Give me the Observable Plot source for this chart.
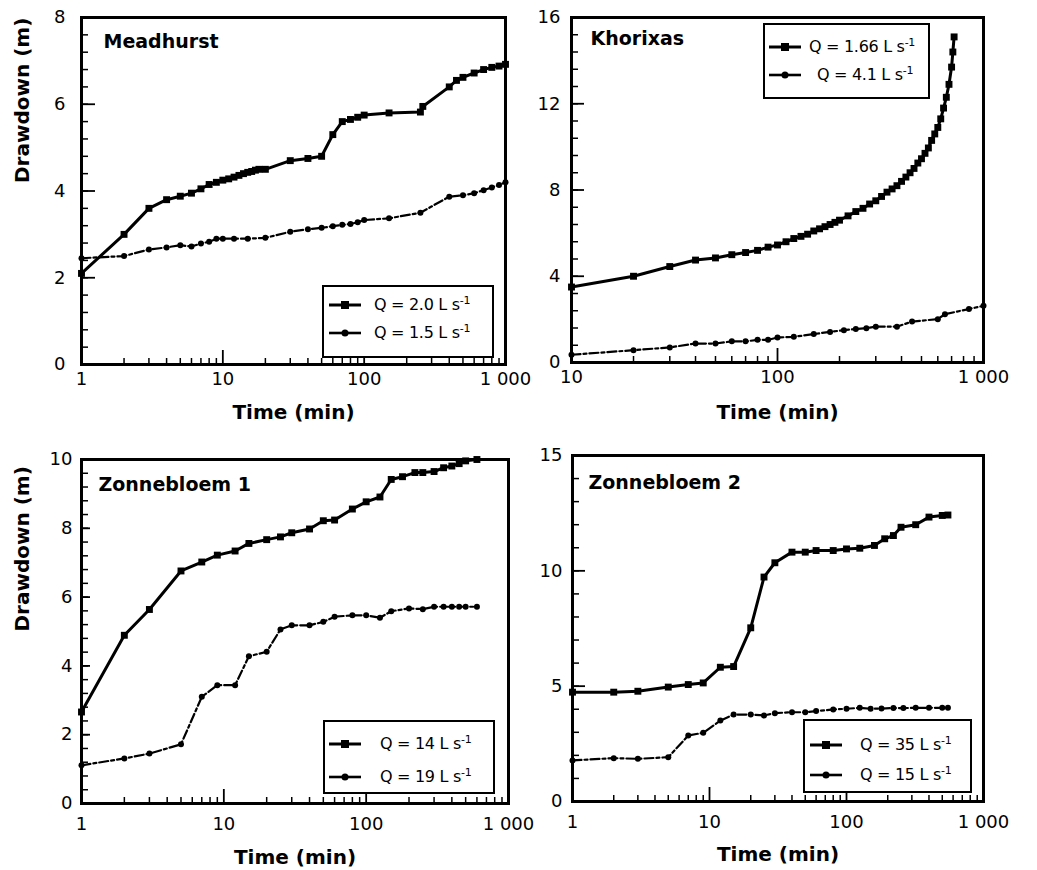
<!DOCTYPE html>
<html><head><meta charset="utf-8">
<script src="https://cdn.jsdelivr.net/npm/d3@7"></script>
<script src="https://cdn.jsdelivr.net/npm/@observablehq/plot@0.6"></script>
<style>
body{margin:0;background:#fff;}
#root{position:relative;width:1037px;height:870px;overflow:hidden;}
.panel{position:absolute;}
.legend{position:absolute;box-sizing:border-box;border:2px solid #000;background:#fff;font-family:"DejaVu Sans";font-size:16px;letter-spacing:-0.3px;color:#000;}
.legend .row{position:absolute;left:0;white-space:nowrap;}
.legend sup{font-size:11px;vertical-align:6px;line-height:0;}
.legend svg{position:absolute;overflow:visible;}
</style></head><body><div id="root"></div>
<script>
// ---------- Data ----------
// Meadhurst
const meadT_A = [1,2,3,4,5,6,7,8,9,10,11,12,13,14,15,16,17,18,20,30,40,50,60,70,80,90,100,150,250,260,400,450,500,600,700,800,900,1000];
const meadS_A = [2.1,3.0,3.6,3.8,3.88,3.95,4.05,4.15,4.2,4.25,4.28,4.32,4.36,4.4,4.43,4.45,4.48,4.5,4.5,4.7,4.75,4.8,5.3,5.6,5.65,5.7,5.75,5.8,5.82,5.95,6.4,6.55,6.62,6.72,6.8,6.85,6.88,6.92];
const meadT_B = [1,2,3,4,5,6,7,8,9,10,12,15,20,30,40,50,60,70,80,90,100,150,250,400,500,600,700,800,900,1000];
const meadS_B = [2.45,2.5,2.65,2.7,2.75,2.72,2.79,2.83,2.9,2.9,2.9,2.9,2.92,3.06,3.12,3.15,3.19,3.22,3.24,3.28,3.33,3.37,3.5,3.87,3.9,3.95,4.02,4.08,4.14,4.2];
// Khorixas
const khoT_A = [10,20,30,40,50,60,70,80,90,100,110,120,130,140,150,160,170,180,190,200,220,240,260,280,300,320,340,360,380,400,420,440,460,480,500,520,540,560,580,600,620,640,660,680,700,710,720];
const khoS_A = [3.5,4.0,4.45,4.75,4.85,5.0,5.1,5.2,5.35,5.45,5.6,5.75,5.85,5.95,6.1,6.2,6.3,6.4,6.5,6.6,6.8,7.0,7.15,7.35,7.5,7.7,7.9,8.05,8.2,8.4,8.6,8.8,9.0,9.25,9.45,9.7,9.95,10.3,10.6,10.9,11.3,11.8,12.3,12.9,13.7,14.4,15.1];
const khoT_B = [10,20,30,40,50,60,70,80,90,100,120,150,180,210,240,270,300,380,450,600,650,850,1000];
const khoS_B = [0.36,0.57,0.7,0.88,0.88,0.98,0.98,1.05,1.05,1.16,1.19,1.32,1.42,1.5,1.55,1.59,1.66,1.66,1.9,2.01,2.24,2.48,2.63];
// Zonnebloem 1
const zb1T_A = [1,2,3,5,7,9,12,15,20,25,30,40,50,60,80,100,125,150,180,220,250,300,350,400,450,500,600];
const zb1S_A = [2.66,4.89,5.64,6.76,7.02,7.22,7.34,7.56,7.67,7.75,7.87,7.98,8.22,8.24,8.56,8.77,8.91,9.42,9.5,9.62,9.62,9.65,9.76,9.81,9.88,9.96,10.0];
const zb1T_B = [1,2,3,5,7,9,12,15,20,25,30,40,50,60,80,100,125,150,200,250,300,350,400,450,500,600];
const zb1S_B = [1.11,1.31,1.45,1.72,3.1,3.44,3.44,4.28,4.41,5.06,5.18,5.18,5.28,5.43,5.47,5.47,5.4,5.59,5.67,5.65,5.72,5.72,5.72,5.72,5.72,5.72];
// Zonnebloem 2
const zb2T_A = [1,2,3,5,7,9,12,15,20,25,30,40,50,60,80,100,125,160,190,220,250,320,400,500,550];
const zb2S_A = [4.74,4.74,4.78,4.96,5.07,5.14,5.82,5.85,7.53,9.73,10.35,10.81,10.81,10.88,10.88,10.95,10.98,11.1,11.39,11.53,11.89,12.0,12.33,12.4,12.42];
const zb2T_B = [1,2,3,5,7,9,12,15,20,25,30,40,50,60,80,100,125,150,180,220,260,320,400,500,550];
const zb2S_B = [1.78,1.88,1.85,1.92,2.86,2.98,3.51,3.77,3.77,3.73,3.83,3.87,3.87,3.92,3.99,4.02,4.06,4.02,4.03,4.05,4.05,4.06,4.06,4.06,4.06];

// Tick values
const decades = [1,10,100,1000];
const minorsFrom = (lo, hi) => { const r=[]; for (let d=lo; d<hi; d*=10) for (let k=2;k<=9;k++) r.push(d*k); return r; };
const titles = ["Meadhurst","Khorixas","Zonnebloem 1","Zonnebloem 2"];
const legendLabels = [["Q = 2.0 L s","Q = 1.5 L s"],["Q = 1.66 L s","Q = 4.1 L s"],["Q = 14 L s","Q = 19 L s"],["Q = 35 L s","Q = 15 L s"]];
const xLabel = "Time (min)", yLabel = "Drawdown (m)";

const zip = (t, s) => t.map((x,i)=>({t:x, s:s[i]}));
const fmt = d => d === 1000 ? "1 000" : String(d);
const range = (a,b,st) => d3.range(a, b + st/2, st).map(v => +v.toFixed(3));

function panel(c){
  const fw = c.width - c.ml - c.mr, fh = c.height - c.mt - c.mb;
  const A = zip(c.tA, c.sA), B = zip(c.tB, c.sB);
  const [x0, x1] = c.xDomain, [y0, y1] = c.yDomain;
  // inward tick lengths in px, converted through the scales' extents
  const yUp = len => y0 + (y1 - y0) * len / fh;
  const xRight = len => x0 * Math.pow(x1 / x0, len / fw);
  const marks = [
    Plot.ruleX(c.xMinor, {x: d=>d, y1: y0, y2: yUp(6), stroke: "#000", strokeWidth: 1.5}),
    Plot.ruleX(c.xMajor, {x: d=>d, y1: y0, y2: yUp(14), stroke: "#000", strokeWidth: 1.8}),
    Plot.ruleY(c.yMinor, {y: d=>d, x1: x0, x2: xRight(7), stroke: "#000", strokeWidth: 1.5}),
    Plot.ruleY(c.yMajor, {y: d=>d, x1: x0, x2: xRight(c.yMajLen), stroke: "#000", strokeWidth: 1.8}),
    Plot.axisX({ticks: c.xMajor, tickSize: 0, tickPadding: c.xPad, tickFormat: fmt, label: null}),
    Plot.axisY({ticks: c.yMajor, tickSize: 0, tickPadding: c.yPad, label: null}),
    Plot.line(B, {x: "t", y: "s", stroke: "#000", strokeWidth: 2.2, strokeDasharray: "9,3,3,3"}),
    Plot.dot(B, {x: "t", y: "s", symbol: "circle", r: 3, fill: "#000"}),
    Plot.line(A, {x: "t", y: "s", stroke: "#000", strokeWidth: 3}),
    Plot.dot(A, {x: "t", y: "s", symbol: "square", r: 3.9, fill: "#000"}),
    Plot.frame({stroke: "#000", strokeWidth: 3}),
    Plot.text([c.title], {frameAnchor: "top-left", dx: c.tdx, dy: c.tdy, text: d=>d, textAnchor: "start", lineAnchor: "top", fontWeight: "bold", fontSize: 19}),
    Plot.text([xLabel], {frameAnchor: "bottom", dy: c.xlDy, text: d=>d, lineAnchor: "middle", fontWeight: "bold", fontSize: 20})
  ];
  if (c.yl) marks.push(Plot.text([yLabel], {frameAnchor: "left", dx: -c.ylDx, dy: c.ylDy, rotate: -90, text: d=>d, lineAnchor: "middle", fontWeight: "bold", fontSize: 20}));
  const svg = Plot.plot({
    width: c.width, height: c.height,
    marginLeft: c.ml, marginRight: c.mr, marginTop: c.mt, marginBottom: c.mb,
    style: {fontFamily: "DejaVu Sans", fontSize: "18px", color: "#000", background: "transparent", overflow: "visible"},
    x: {type: "log", domain: c.xDomain},
    y: {domain: c.yDomain},
    marks
  });
  svg.classList.add("panel");
  svg.style.left = c.left + "px"; svg.style.top = c.top + "px";
  return svg;
}

function legend(box, labels, rows){
  const div = document.createElement("div");
  div.className = "legend";
  Object.assign(div.style, {left: box[0]+"px", top: box[1]+"px", width: box[2]+"px", height: box[3]+"px"});
  rows.forEach((r, i) => {
    const ns = "http://www.w3.org/2000/svg";
    const s = document.createElementNS(ns, "svg");
    s.setAttribute("width", 34); s.setAttribute("height", 12);
    s.style.left = r.lx + "px"; s.style.top = (r.y - 6) + "px";
    const ln = document.createElementNS(ns, "line");
    ln.setAttribute("x1", 0); ln.setAttribute("x2", 32); ln.setAttribute("y1", 6); ln.setAttribute("y2", 6);
    ln.setAttribute("stroke", "#000"); ln.setAttribute("stroke-width", i === 0 ? 3 : 2.6);
    s.appendChild(ln);
    if (i === 0) { const m = document.createElementNS(ns, "rect"); m.setAttribute("x", 12); m.setAttribute("y", 2); m.setAttribute("width", 8); m.setAttribute("height", 8); s.appendChild(m); }
    else { const m = document.createElementNS(ns, "circle"); m.setAttribute("cx", 16); m.setAttribute("cy", 6); m.setAttribute("r", 3.5); s.appendChild(m); }
    div.appendChild(s);
    const t = document.createElement("div");
    t.className = "row";
    t.style.left = r.tx + "px"; t.style.top = (r.y - 10) + "px"; t.style.lineHeight = "20px";
    t.innerHTML = labels[i] + "<sup>-1</sup>";
    div.appendChild(t);
  });
  return div;
}

const root = document.getElementById("root");
root.appendChild(panel({left:0, top:0, width:530, height:430, ml:81, mr:25, mt:17, mb:66,
  xDomain:[1,1000], yDomain:[0,8], xMajor:decades, xMinor:minorsFrom(1,1000), yMajor:range(0,8,2), yMinor:range(0,8,0.4), yMajLen:14,
  tA:meadT_A, sA:meadS_A, tB:meadT_B, sB:meadS_B, title:titles[0], tdx:22, tdy:17, xPad:8, yPad:16, xlDy:48, yl:true, ylDx:59, ylDy:-8}));
root.appendChild(panel({left:530, top:0, width:507, height:430, ml:41, mr:54, mt:17, mb:68,
  xDomain:[10,1000], yDomain:[0,16], xMajor:[10,100,1000], xMinor:minorsFrom(10,1000), yMajor:range(0,16,4), yMinor:range(0,16,0.8), yMajLen:13,
  tA:khoT_A, sA:khoS_A, tB:khoT_B, sB:khoS_B, title:titles[1], tdx:19, tdy:14, xPad:8, yPad:11, xlDy:50, yl:false}));
root.appendChild(panel({left:0, top:430, width:530, height:440, ml:81, mr:22, mt:29, mb:67,
  xDomain:[1,1000], yDomain:[0,10], xMajor:decades, xMinor:minorsFrom(1,1000), yMajor:range(0,10,2), yMinor:range(0,10,0.4), yMajLen:9,
  tA:zb1T_A, sA:zb1S_A, tB:zb1T_B, sB:zb1S_B, title:titles[2], tdx:17, tdy:18, xPad:14, yPad:9, xlDy:54, yl:true, ylDx:59, ylDy:0}));
root.appendChild(panel({left:530, top:430, width:507, height:440, ml:42, mr:54, mt:25, mb:69,
  xDomain:[1,1000], yDomain:[0,15], xMajor:decades, xMinor:minorsFrom(1,1000), yMajor:range(0,15,5), yMinor:range(0,15,1), yMajLen:13,
  tA:zb2T_A, sA:zb2S_A, tB:zb2T_B, sB:zb2S_B, title:titles[3], tdx:16, tdy:20, xPad:14, yPad:10, xlDy:53, yl:false}));

root.appendChild(legend([322,285,172,73], legendLabels[0], [{y:18, lx:5, tx:50}, {y:46, lx:5, tx:50}]));
root.appendChild(legend([763,23,167,76], legendLabels[1], [{y:22, lx:4, tx:44}, {y:50, lx:4, tx:52}]));
root.appendChild(legend([323,720,172,74], legendLabels[2], [{y:22, lx:4, tx:55}, {y:55, lx:4, tx:55}]));
root.appendChild(legend([803,719,169,74], legendLabels[3], [{y:24, lx:5, tx:55}, {y:54, lx:5, tx:55}]));
</script></body></html>
